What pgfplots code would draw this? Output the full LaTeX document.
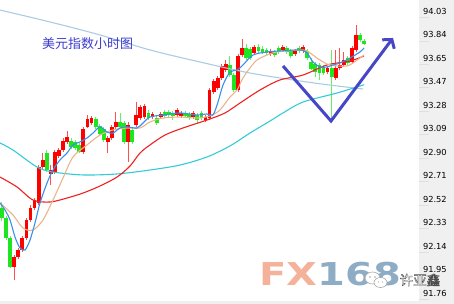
\documentclass[border=0pt]{standalone}
\usepackage{pgfplots}
\pgfplotsset{compat=1.18}
\usepackage{pgfplotstable}
\usepackage{fontspec}
\usetikzlibrary{arrows.meta}
\newfontfamily\cjk{Noto Sans CJK SC}
\newfontfamily\tickfont{DejaVu Sans}
\newfontfamily\logofont{DejaVu Sans}

\definecolor{candlered}{HTML}{FF0000}
\definecolor{wickred}{HTML}{FF5050}
\definecolor{candlegreen}{HTML}{1EE61E}
\definecolor{wickgreen}{HTML}{66EE66}
\definecolor{maBlue}{HTML}{3A90E8}
\definecolor{maTan}{HTML}{EBB48C}
\definecolor{maRed}{HTML}{F02020}
\definecolor{maCyan}{HTML}{33CCD6}
\definecolor{maSky}{HTML}{A8CCE4}
\definecolor{arrowblue}{HTML}{4646C8}
\definecolor{titleblue}{HTML}{3C3CCC}
\definecolor{panelgray}{HTML}{F0F0F0}
\definecolor{fxorange}{HTML}{F4B29A}
\definecolor{fxblue}{HTML}{8EADC4}

% hourly candles: index, open, high, low, close
\pgfplotstableread{
i O H L C
3 91.970 92.066 91.865 92.050
4 92.050 92.123 92.034 92.107
5 92.107 92.220 92.091 92.204
6 92.204 92.365 92.187 92.349
7 92.349 92.470 92.333 92.446
8 92.446 92.526 92.429 92.510
9 92.486 92.792 92.470 92.776
10 92.776 92.889 92.752 92.833
12 92.720 92.792 92.631 92.752
13 92.736 92.913 92.720 92.897
14 92.865 92.929 92.849 92.913
15 92.913 93.010 92.897 92.986
16 92.978 93.067 92.962 93.018
20 92.897 93.099 92.881 93.083
21 93.099 93.196 93.091 93.163
22 93.131 93.188 93.115 93.171
26 92.978 93.026 92.889 93.010
27 93.010 93.115 92.994 93.099
28 93.099 93.220 93.083 93.139
31 92.978 93.139 92.816 93.115
33 93.115 93.300 93.099 93.196
34 93.171 93.276 93.155 93.260
35 93.179 93.284 93.163 93.268
37 93.179 93.220 93.163 93.204
39 93.179 93.220 93.163 93.204
43 93.196 93.252 93.179 93.236
44 93.188 93.228 93.171 93.212
47 93.179 93.228 93.163 93.212
50 93.155 93.196 93.139 93.179
51 93.171 93.413 93.155 93.397
52 93.381 93.486 93.365 93.470
53 93.413 93.510 93.397 93.494
54 93.494 93.607 93.478 93.591
55 93.558 93.639 93.542 93.607
58 93.397 93.688 93.381 93.671
59 93.679 93.809 93.663 93.736
62 93.696 93.760 93.679 93.744
66 93.688 93.728 93.671 93.712
69 93.720 93.760 93.704 93.744
72 93.688 93.728 93.671 93.712
74 93.712 93.760 93.696 93.744
80 93.542 93.591 93.526 93.575
82 93.494 93.720 93.478 93.575
83 93.575 93.736 93.558 93.599
84 93.599 93.704 93.583 93.639
86 93.623 93.752 93.607 93.736
87 93.720 93.921 93.704 93.841
}\upcandles

\pgfplotstableread{
i O H L C
0 92.446 92.494 92.341 92.365
1 92.365 92.381 92.187 92.204
2 92.204 92.220 91.962 91.970
11 92.889 92.913 92.736 92.752
17 92.986 93.010 92.921 92.937
18 92.978 92.994 92.913 92.929
19 92.954 92.970 92.889 92.897
23 93.163 93.179 93.083 93.099
24 93.107 93.123 93.026 93.042
25 93.083 93.099 92.978 92.994
29 93.139 93.212 93.083 93.099
30 93.131 93.147 92.962 92.978
32 93.075 93.091 92.962 92.978
36 93.212 93.236 93.155 93.171
38 93.171 93.188 93.115 93.131
40 93.220 93.236 93.171 93.188
41 93.220 93.236 93.179 93.196
42 93.212 93.228 93.155 93.188
45 93.212 93.228 93.171 93.188
46 93.204 93.220 93.155 93.179
48 93.196 93.212 93.131 93.155
49 93.212 93.228 93.155 93.171
56 93.599 93.671 93.502 93.518
57 93.518 93.534 93.381 93.397
60 93.736 93.768 93.639 93.655
61 93.728 93.744 93.639 93.655
63 93.744 93.768 93.696 93.712
64 93.728 93.752 93.688 93.704
65 93.720 93.736 93.679 93.696
67 93.704 93.720 93.663 93.679
68 93.736 93.752 93.688 93.704
70 93.736 93.752 93.688 93.704
71 93.712 93.728 93.655 93.671
73 93.736 93.752 93.696 93.712
75 93.712 93.728 93.639 93.655
76 93.623 93.655 93.558 93.567
77 93.607 93.623 93.502 93.542
78 93.599 93.615 93.478 93.534
79 93.583 93.599 93.518 93.534
81 93.575 93.720 93.171 93.502
85 93.655 93.671 93.599 93.615
88 93.841 93.857 93.784 93.800
89 93.792 93.809 93.760 93.768
}\downcandles

\begin{document}
\begin{tikzpicture}
\useasboundingbox (0,0) rectangle (454bp,304bp);
% price scale panel and bottom strip
\fill[panelgray] (419bp,0) rectangle (454bp,304bp);
\fill[panelgray] (0,0) rectangle (454bp,3bp);
\foreach \k in {0,...,12}
  \draw[gray!25, line width=0.8bp] (419bp,{(286.5-23.46*\k)*1bp}) -- ++(10bp,0);

\begin{axis}[
  at={(0,3bp)}, anchor=south west,
  scale only axis, width=419bp, height=301bp,
  xmin=-0.491, xmax=102.46,
  ymin=91.6955, ymax=94.123,
  axis line style={draw=none},
  xtick=\empty,
  ytick={91.760,91.949,92.138,92.328,92.517,92.706,92.895,93.084,93.273,93.463,93.652,93.841,94.030},
  yticklabels={91.76,91.95,92.14,92.33,92.52,92.71,92.90,93.09,93.28,93.47,93.65,93.84,94.03},
  yticklabel pos=right,
  major tick length=0pt,
  yticklabel style={font=\tickfont\fontsize{8.3bp}{10bp}\selectfont, text=black, anchor=west, xshift=0.5bp},
  clip=true,
]
% wicks
\addplot[draw=none, mark=none, forget plot, error bars/.cd, y dir=plus, y explicit, error mark=none,
  error bar style={line width=1bp, draw=wickred}]
  table[x=i, y=L, y error expr=\thisrow{H}-\thisrow{L}] {\upcandles};
\addplot[draw=none, mark=none, forget plot, error bars/.cd, y dir=plus, y explicit, error mark=none,
  error bar style={line width=1bp, draw=wickgreen}]
  table[x=i, y=L, y error expr=\thisrow{H}-\thisrow{L}] {\downcandles};
% bodies
\addplot[draw=none, mark=none, forget plot, error bars/.cd, y dir=plus, y explicit, error mark=none,
  error bar style={line width=3.8bp, draw=candlered, line cap=butt}]
  table[x=i, y=O, y error expr=\thisrow{C}-\thisrow{O}] {\upcandles};
\addplot[draw=none, mark=none, forget plot, error bars/.cd, y dir=plus, y explicit, error mark=none,
  error bar style={line width=3.8bp, draw=candlegreen, line cap=butt}]
  table[x=i, y=C, y error expr=\thisrow{O}-\thisrow{C}] {\downcandles};

% moving averages
\addplot[maSky, line width=1.1bp, smooth] coordinates {
 (-0.49,94.042) (11.79,93.946) (24.08,93.841) (36.36,93.720) (48.65,93.623)
 (60.93,93.534) (73.22,93.470) (80.59,93.437) (88.70,93.405)};
\addplot[maCyan, line width=1.1bp, smooth] coordinates {
 (-0.49,92.970) (2.70,92.913) (8.60,92.776) (12.53,92.736) (19.90,92.712)
 (28.26,92.720) (36.36,92.752) (43.73,92.792) (50.37,92.857) (56.02,92.946)
 (60.93,93.050) (65.85,93.147) (69.04,93.212) (73.96,93.300) (82.31,93.373) (89.0,93.440)};
\addplot[maRed, line width=1.1bp, smooth] coordinates {
 (-0.49,92.695) (3.69,92.615) (7.62,92.510) (11.79,92.494) (15.97,92.526)
 (19.90,92.566) (24.08,92.623) (28.26,92.695) (31.45,92.784) (33.91,92.889)
 (36.36,92.954) (40.05,93.034) (44.47,93.091) (50.37,93.155) (54.79,93.212)
 (58.48,93.292) (63.39,93.397) (68.30,93.478) (73.96,93.518) (79.85,93.599)
 (85.50,93.631) (88.94,93.671)};
\addplot[maTan, line width=1.1bp, smooth] coordinates {
 (-0.49,92.486) (2.70,92.389) (5.16,92.284) (7.62,92.268) (10.07,92.349)
 (12.53,92.510) (14.99,92.687) (17.44,92.857) (20.88,92.954) (24.08,93.034)
 (27.27,93.075) (30.71,93.091) (33.91,93.091) (36.36,93.139) (39.56,93.171)
 (43.73,93.179) (47.91,93.171) (51.11,93.188) (53.56,93.236) (56.02,93.341)
 (57.74,93.397) (59.21,93.494) (60.93,93.575) (62.65,93.639) (65.11,93.679)
 (67.57,93.704) (73.96,93.720) (75.68,93.696) (77.40,93.655) (79.85,93.607)
 (82.31,93.591) (84.77,93.591) (86.24,93.615) (88.94,93.679)};
\addplot[maBlue, line width=1.1bp, smooth] coordinates {
 (-0.49,92.486) (0.74,92.429) (1.97,92.349) (3.19,92.212) (4.42,92.123)
 (5.65,92.107) (6.88,92.187) (8.11,92.325) (9.34,92.486) (11.06,92.647)
 (12.53,92.752) (14.25,92.833) (15.97,92.889) (17.44,92.954) (19.16,92.978)
 (20.88,93.010) (22.36,93.050) (24.08,93.099) (25.80,93.058) (27.27,93.050)
 (28.99,93.091) (30.71,93.099) (33.17,93.091) (34.64,93.131) (36.36,93.179)
 (39.56,93.196) (43.73,93.212) (47.91,93.196) (50.37,93.204) (51.84,93.196)
 (53.07,93.300) (54.30,93.437) (56.02,93.542) (57.74,93.558) (59.21,93.599)
 (61.67,93.679) (65.11,93.704) (68.30,93.712) (73.22,93.720) (74.94,93.696)
 (76.41,93.623) (78.13,93.583) (79.85,93.583) (81.33,93.599) (83.05,93.615)
 (85.50,93.655) (87.96,93.704) (88.94,93.736)};

% V-shaped arrow annotation
\addplot[arrowblue, line width=3bp, line join=miter, line cap=butt,
  -{Straight Barb[length=6bp, width=15bp, line width=3bp]}] coordinates {
 (69.04,93.591) (80.84,93.147) (96.07,93.817)};
\end{axis}

% title
\node[font=\cjk\fontsize{13bp}{15bp}\selectfont, text=titleblue, inner sep=0] at (87.5bp,260bp) {美元指数小时图};

% logo watermark
\node[anchor=base west, inner sep=0, font=\logofont\bfseries\fontsize{31.5bp}{36bp}\selectfont] at (259bp,19bp)
  {\scalebox{1.27}[1]{\textcolor{fxorange}{FX}\textcolor{fxblue}{168}}};

% signature with chat icon
\fill[white, draw=gray!70, line width=0.6bp] (372.5bp,26bp) ellipse (7.5bp and 6bp);
\fill[white, draw=gray!70, line width=0.6bp] (380.5bp,21.5bp) ellipse (6.5bp and 5bp);
\fill[gray!70] (370bp,27bp) circle (0.8bp) (375bp,27bp) circle (0.8bp)
               (378.5bp,22bp) circle (0.6bp) (382.5bp,22bp) circle (0.6bp);
\node[font=\cjk\fontsize{13.5bp}{16bp}\selectfont, inner sep=0] at (420bp,24bp)
  {\color{white}\special{pdf:code q 2 Tr 0.4 w 0.3 0.3 0.3 RG}许亚鑫\special{pdf:code Q}};
\end{tikzpicture}
\end{document}
